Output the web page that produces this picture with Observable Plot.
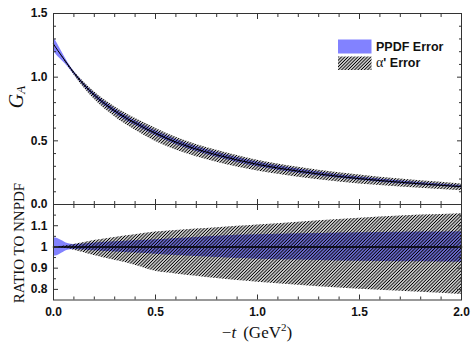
<!DOCTYPE html>
<html><head><meta charset="utf-8">
<script src="https://cdn.jsdelivr.net/npm/d3@7"></script>
<script src="https://cdn.jsdelivr.net/npm/@observablehq/plot@0.6"></script>
<style>
html,body{margin:0;padding:0;background:#fff;}
#chart{position:relative;width:471px;height:348px;overflow:hidden;background:#fff;}
#chart svg{position:absolute;left:0;overflow:visible;}
</style></head><body><div id="chart"></div>
<script>
// -t (GeV^2)
const tVals   = [0, 0.02, 0.04, 0.07, 0.1, 0.15, 0.2, 0.3, 0.4, 0.5, 0.6, 0.7, 0.8, 0.9, 1.0, 1.2, 1.4, 1.6, 1.8, 2.0];
// central G_A
const gaVals  = [1.26, 1.212, 1.167, 1.10, 1.035, 0.94, 0.86, 0.735, 0.64, 0.56, 0.49, 0.435, 0.39, 0.35, 0.315, 0.262, 0.22, 0.188, 0.162, 0.14];
// PPDF error (relative half-width)
const ppdfErr = [0.043, 0.04, 0.03, 0.016, 0.012, 0.014, 0.018, 0.024, 0.029, 0.034, 0.04, 0.045, 0.05, 0.055, 0.058, 0.062, 0.066, 0.068, 0.07, 0.072];
// alpha' error (relative, up and down)
const alphaUp = [0, 0, 0.003, 0.007, 0.012, 0.021, 0.03, 0.045, 0.058, 0.07, 0.078, 0.085, 0.091, 0.097, 0.103, 0.116, 0.129, 0.141, 0.15, 0.157];
const alphaDn = [0, 0, 0.004, 0.009, 0.015, 0.027, 0.04, 0.063, 0.086, 0.115, 0.127, 0.138, 0.149, 0.158, 0.166, 0.18, 0.193, 0.204, 0.214, 0.224];

const xMajor = [0, 0.5, 1.0, 1.5, 2.0];
const xMinor = [0.1, 0.2, 0.3, 0.4, 0.6, 0.7, 0.8, 0.9, 1.1, 1.2, 1.3, 1.4, 1.6, 1.7, 1.8, 1.9];
const xTickLabels = ["0.0", "0.5", "1.0", "1.5", "2.0"];
const yTopMajor = [0, 0.5, 1.0, 1.5];
const yTopMinor = [0.1, 0.2, 0.3, 0.4, 0.6, 0.7, 0.8, 0.9, 1.1, 1.2, 1.3, 1.4];
const yTopLabels = ["0.0", "0.5", "1.0", "1.5"];
const yBotMajor = [0.8, 0.9, 1.0, 1.1];
const yBotMinor = [0.85, 0.95, 1.05, 1.15];
const yBotLabels = ["0.8", "0.9", "1", "1.1"];
const legendLabels = ["PPDF Error", "\u03b1' Error"];

const rows = tVals.map((t, i) => ({
  t, ga: gaVals[i],
  pLo: 1 - ppdfErr[i], pHi: 1 + ppdfErr[i],
  aLo: 1 - alphaDn[i], aHi: 1 + alphaUp[i]
}));

const BLUE = "#8282ff";
const AX = "#333";
const curve = "monotone-x";
const chart = document.getElementById("chart");
const baseStyle = {fontFamily: "'Liberation Sans', Arial, sans-serif", fontSize: "12px", fontWeight: "bold", background: "transparent", color: "#111"};

function frameAxes(yMajor, yMinor, yLabels, showX) {
  const fmtY = d => yLabels[yMajor.indexOf(d)];
  const fmtX = d => xTickLabels[xMajor.indexOf(d)];
  return [
    Plot.frame({stroke: AX, strokeWidth: 1}),
    Plot.axisY({anchor: "left", ticks: yMajor, tickSize: -5, tickPadding: 11, tickFormat: fmtY, label: null, stroke: AX}),
    Plot.axisY({anchor: "left", ticks: yMinor, tickSize: -3, fill: "none", label: null, stroke: AX}),
    Plot.axisY({anchor: "right", ticks: yMajor, tickSize: -5, fill: "none", label: null, stroke: AX}),
    Plot.axisY({anchor: "right", ticks: yMinor, tickSize: -3, fill: "none", label: null, stroke: AX}),
    Plot.axisX({anchor: "top", ticks: xMajor, tickSize: -5, fill: "none", label: null, stroke: AX}),
    Plot.axisX({anchor: "top", ticks: xMinor, tickSize: -3, fill: "none", label: null, stroke: AX}),
    showX
      ? Plot.axisX({anchor: "bottom", ticks: xMajor, tickSize: -5, tickPadding: 12, tickFormat: fmtX, label: null, stroke: AX})
      : Plot.axisX({anchor: "bottom", ticks: xMajor, tickSize: -5, fill: "none", label: null, stroke: AX}),
    Plot.axisX({anchor: "bottom", ticks: xMinor, tickSize: -3, fill: "none", label: null, stroke: AX})
  ];
}

const topPlot = Plot.plot({
  width: 471, height: 208,
  marginLeft: 53, marginRight: 10, marginTop: 13, marginBottom: 4,
  style: baseStyle,
  x: {domain: [0, 2]},
  y: {domain: [0, 1.5]},
  marks: [
    Plot.areaY(rows, {x: "t", y1: d => d.ga * d.pLo, y2: d => d.ga * d.pHi, fill: BLUE, curve}),
    Plot.areaY(rows, {x: "t", y1: d => d.ga * d.aLo, y2: d => d.ga * d.aHi, fill: "url(#hatch)", curve}),
    Plot.lineY(rows, {x: "t", y: "ga", stroke: "#000", strokeWidth: 1, curve}),
    ...frameAxes(yTopMajor, yTopMinor, yTopLabels, false)
  ]
});
topPlot.style.top = "0px";
chart.appendChild(topPlot);

const botPlot = Plot.plot({
  width: 471, height: 148,
  marginLeft: 53, marginRight: 10, marginTop: 4, marginBottom: 48.5,
  style: baseStyle,
  x: {domain: [0, 2]},
  y: {domain: [0.75, 1.2]},
  marks: [
    Plot.areaY(rows, {x: "t", y1: "pLo", y2: "pHi", fill: BLUE, curve}),
    Plot.areaY(rows, {x: "t", y1: "aLo", y2: "aHi", fill: "url(#hatch)", curve}),
    Plot.lineY(rows, {x: "t", y: () => 1, stroke: "#000", strokeWidth: 1.6}),
    ...frameAxes(yBotMajor, yBotMinor, yBotLabels, true)
  ]
});
botPlot.style.top = "200px";
chart.appendChild(botPlot);

// overlay with pattern, axis titles and legend
const ov = d3.select(chart).append("svg")
  .attr("width", 471).attr("height", 348)
  .style("top", "0px").style("pointer-events", "none");
const pat = ov.append("defs").append("pattern")
  .attr("id", "hatch").attr("patternUnits", "userSpaceOnUse")
  .attr("width", 2.3).attr("height", 2.3)
  .attr("patternTransform", "rotate(45)");
pat.append("line").attr("x1", 1.15).attr("x2", 1.15).attr("y1", -1).attr("y2", 3.3)
  .attr("stroke", "#000").attr("stroke-width", 1.1);

const serif = "'Liberation Serif', 'Times New Roman', serif";
const sans = "'Liberation Sans', Arial, sans-serif";

const gaText = ov.append("text").attr("transform", "translate(23,97) rotate(-90)")
  .attr("text-anchor", "middle").attr("font-family", serif).attr("font-style", "italic")
  .attr("font-size", 20).attr("fill", "#111");
gaText.append("tspan").text("G");
gaText.append("tspan").attr("font-size", 13).attr("dy", 2).text("A");

ov.append("text").attr("transform", "translate(24,243) rotate(-90)")
  .attr("text-anchor", "middle").attr("font-family", serif).attr("font-size", 15)
  .attr("fill", "#111").text("RATIO TO NNPDF");

const xl = ov.append("text").attr("x", 257).attr("y", 338).attr("text-anchor", "middle")
  .attr("font-family", serif).attr("font-size", 17).attr("fill", "#111");
xl.append("tspan").text("\u2212");
xl.append("tspan").attr("font-style", "italic").text("t");
xl.append("tspan").attr("dx", 7).text("(GeV");
xl.append("tspan").attr("font-size", 11).attr("dy", -7).text("2");
xl.append("tspan").attr("dy", 7).text(")");

// legend
ov.append("rect").attr("x", 338).attr("y", 39.5).attr("width", 33.5).attr("height", 14).attr("fill", BLUE);
ov.append("rect").attr("x", 338).attr("y", 56.5).attr("width", 33.5).attr("height", 13.5).attr("fill", "url(#hatch)");
ov.append("text").attr("x", 376).attr("y", 51).attr("font-family", sans).attr("font-weight", "bold")
  .attr("font-size", 12.5).attr("fill", "#111").text(legendLabels[0]);
const l2 = ov.append("text").attr("x", 376).attr("y", 67).attr("font-family", sans).attr("font-weight", "bold")
  .attr("font-size", 12.5).attr("fill", "#111");
l2.append("tspan").attr("font-family", serif).attr("font-weight", "normal").attr("font-size", 14).text(legendLabels[1].slice(0, 1));
l2.append("tspan").text(legendLabels[1].slice(1));
</script></body></html>
